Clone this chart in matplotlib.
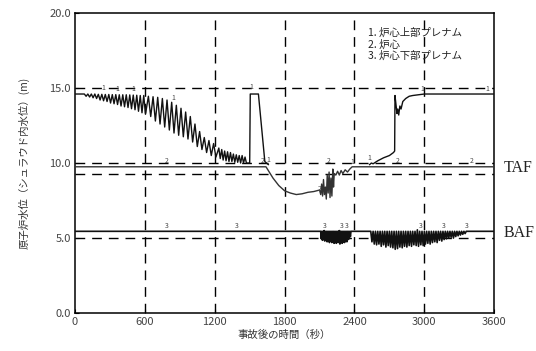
import matplotlib
matplotlib.use("Agg")
import matplotlib.pyplot as plt
import numpy as np

plt.rcParams['font.family'] = ['Noto Sans CJK JP', 'DejaVu Sans']

# 1. upper plenum level (m) vs time (s)
up_t = [0, 60, 80, 95, 110, 125, 140, 155, 170, 185, 200, 215, 230, 245, 260, 275,
        290, 305, 320, 335, 350, 365, 380, 395, 410, 425, 440, 455, 470, 485, 500, 515,
        530, 545, 560, 575, 590, 605, 630, 650, 670, 690, 710, 730, 750, 770, 790, 810,
        830, 850, 870, 890, 910, 930, 950, 970, 990, 1010, 1030, 1050, 1070, 1090, 1110, 1130,
        1150, 1170, 1190, 1210, 1235, 1247, 1260, 1272, 1285, 1297, 1310, 1322, 1335, 1347, 1360, 1372,
        1385, 1397, 1410, 1422, 1435, 1447, 1460, 1472, 1500, 1505, 1575, 1630, 1660,
        1661,
        2530, 2545, 2560, 2600, 2650, 2700, 2735, 2745, 2748, 2755, 2765, 2772, 2780, 2790, 2800, 2815,
        2840, 2870, 2900, 2950, 3000, 3600]
up_y = [14.6, 14.6, 14.6, 14.45, 14.6, 14.4, 14.6, 14.35, 14.6, 14.3, 14.58, 14.2, 14.58, 14.15, 14.57, 14.1,
        14.57, 14.0, 14.56, 13.95, 14.56, 13.9, 14.55, 13.8, 14.55, 13.75, 14.55, 13.7, 14.54, 13.62, 14.53, 13.55,
        14.52, 13.45, 14.5, 13.35, 14.5, 13.25, 14.45, 13.1, 14.42, 12.8, 14.38, 12.6, 14.3, 12.4, 14.2, 12.2,
        14.05, 12.0, 13.85, 11.85, 13.65, 11.75, 13.4, 11.6, 13.1, 11.4, 12.6, 11.1, 12.1, 10.9, 11.7, 10.7,
        11.5, 10.5, 11.3, 10.4, 11.0, 10.3, 10.9, 10.2, 10.8, 10.15, 10.75, 10.1, 10.7, 10.1, 10.6, 10.05,
        10.55, 10.05, 10.5, 10.0, 10.5, 10.0, 10.4, 10.0, 10.0, 14.6, 14.6, 10.1, 9.9,
        np.nan,
        9.9, 10.0, 9.95, 10.15, 10.35, 10.5, 10.7, 10.8, 14.5, 14.0, 13.3, 13.6, 13.2, 13.8, 13.6, 14.1,
        14.3, 14.45, 14.5, 14.55, 14.6, 14.6]

# 2. core level
core_t = [0, 1640, 1660, 1700, 1750, 1800, 1850, 1900, 1950, 2000, 2050, 2100,
          2110, 2118, 2126, 2134, 2142, 2150, 2158, 2166, 2174, 2182, 2190, 2198, 2206, 2214,
          2220, 2226, 2240, 2255, 2270, 2285, 2300, 2320, 2340, 2360, 2380, 3600]
core_y = [9.75, 9.75, 9.5, 9.0, 8.5, 8.15, 8.0, 7.9, 7.95, 8.05, 8.1, 8.2,
          7.9, 8.6, 7.8, 8.9, 7.9, 8.4, 7.6, 9.2, 8.0, 9.4, 7.7, 9.0, 7.8, 9.6,
          8.4, 9.3, 9.2, 9.45, 9.2, 9.5, 9.3, 9.55, 9.4, 9.6, 9.75, 9.75]

# 3. lower plenum level
lp_t = [0, 2110, 2115, 2120, 2125, 2130, 2135, 2140, 2145, 2150, 2155, 2160, 2165, 2170, 2175,
        2180, 2185, 2190, 2195, 2200, 2205, 2210, 2215, 2220, 2225, 2230, 2235, 2240, 2245,
        2250, 2255, 2260, 2265, 2270, 2275, 2280, 2285, 2290, 2295, 2300, 2305, 2310, 2315,
        2320, 2325, 2330, 2335, 2340, 2345, 2350, 2355, 2360, 2365, 2370,
        2540, 2550, 2560, 2570, 2580, 2590, 2600, 2610, 2620, 2630, 2640, 2650, 2660, 2670,
        2680, 2690, 2700, 2710, 2720, 2730, 2740, 2750, 2760, 2770, 2780, 2790, 2800, 2810,
        2820, 2830, 2840, 2850, 2860, 2870, 2880, 2890, 2900, 2910, 2920, 2930, 2940, 2950,
        2960, 2970, 2980, 2990, 3000, 3010, 3020, 3030, 3040, 3050, 3060, 3070, 3080, 3090,
        3100, 3110, 3120, 3130, 3140, 3150, 3160, 3170, 3180, 3190, 3200, 3210, 3220, 3230,
        3240, 3250, 3260, 3270, 3280, 3290, 3300, 3310, 3320, 3330, 3340, 3350, 3360, 3600]
lp_y = [5.45, 5.45, 4.95, 5.45, 4.85, 5.45, 4.9, 5.5, 4.8, 5.45, 4.85, 5.45, 4.75, 5.45, 4.8,
        5.45, 4.7, 5.45, 4.8, 5.45, 4.7, 5.45, 4.75, 5.45, 4.65, 5.45, 4.7, 5.45, 4.65,
        5.45, 4.75, 5.45, 4.7, 5.5, 4.6, 5.45, 4.7, 5.45, 4.65, 5.45, 4.75, 5.45, 4.7,
        5.45, 4.8, 5.45, 4.75, 5.45, 4.9, 5.45, 4.95, 5.45, 5.1, 5.45,
        5.45, 4.75, 5.45, 4.6, 5.45, 4.55, 5.45, 4.6, 5.45, 4.45, 5.45, 4.55, 5.45, 4.4,
        5.45, 4.5, 5.45, 4.4, 5.45, 4.35, 5.45, 4.25, 5.45, 4.3, 5.45, 4.4, 5.45, 4.35,
        5.45, 4.45, 5.45, 4.4, 5.45, 4.5, 5.45, 4.45, 5.45, 4.55, 5.45, 4.5, 5.55, 4.45,
        5.45, 4.55, 5.45, 4.5, 5.45, 4.6, 5.45, 4.65, 5.45, 4.6, 5.45, 4.7, 5.45, 4.75,
        5.45, 4.7, 5.45, 4.85, 5.45, 4.8, 5.45, 4.9, 5.45, 4.95, 5.45, 5.0, 5.45, 5.05,
        5.45, 5.0, 5.45, 5.1, 5.45, 5.15, 5.45, 5.2, 5.45, 5.25, 5.45, 5.3, 5.45, 5.45]

# curve number tags (time, level)
tag1 = [(240, 14.75), (360, 14.7), (500, 14.7), (840, 14.1), (1510, 14.8), (1660, 9.95),
        (2380, 9.8), (2530, 10.05), (2985, 14.7), (3540, 14.7)]
tag2 = [(790, 9.85), (1610, 9.85), (2100, 8.0), (2175, 9.85), (2770, 9.85), (3410, 9.85)]
tag3 = [(790, 5.55), (1390, 5.55), (2140, 5.55), (2290, 5.55), (2335, 5.55),
        (2970, 5.55), (3170, 5.55), (3360, 5.55)]

legend_lines = ["1. 炉心上部プレナム", "2. 炉心", "3. 炉心下部プレナム"]
x_ticks = [0, 600, 1200, 1800, 2400, 3000, 3600]
y_ticks = [0.0, 5.0, 10.0, 15.0, 20.0]
taf_level = 9.25
baf_level = 5.45

fig = plt.figure(figsize=(5.36, 3.51), dpi=100)
ax = fig.add_axes([0.140, 0.108, 0.782, 0.855])
ax.set_xlim(0, 3600)
ax.set_ylim(0, 20)

dash = dict(color="black", lw=1.0, dashes=(7, 5), zorder=1)
for x in x_ticks[1:-1]:
    ax.axvline(x, **dash)
for y in [5.0, 10.0, 15.0]:
    ax.axhline(y, **dash)
ax.axhline(taf_level, **dash)

ax.plot(lp_t, lp_y, color="#111111", lw=1.2, zorder=3)
ax.plot(core_t, core_y, color="#333333", lw=1.0, zorder=3)
ax.plot(up_t, up_y, color="#111111", lw=1.0, zorder=4)

for tags, s in [(tag1, "1"), (tag2, "2"), (tag3, "3")]:
    for t, v in tags:
        ax.text(t, v, s, fontsize=5, color="#444444", ha="center", va="bottom", zorder=5)

for i, line in enumerate(legend_lines):
    ax.text(0.70, 0.95 - i * 0.037, line, transform=ax.transAxes, fontsize=7.5,
            color="#222222", va="top", ha="left")

ax.text(1.022, taf_level + 0.4, "TAF", transform=ax.get_yaxis_transform(),
        fontsize=11.5, family="Liberation Serif", va="center", ha="left", color="#222222")
ax.text(1.022, baf_level - 0.1, "BAF", transform=ax.get_yaxis_transform(),
        fontsize=11.5, family="Liberation Serif", va="center", ha="left", color="#222222")

ax.set_xticks(x_ticks)
ax.set_yticks(y_ticks)
ax.set_yticklabels([f"{v:.1f}" for v in y_ticks])
ax.tick_params(direction="in", length=3, labelsize=8, labelcolor="#444444", pad=3)
for sp in ax.spines.values():
    sp.set_linewidth(1.1)

ax.set_xlabel("事故後の時間（秒）", fontsize=7.5, color="#333333", labelpad=2)
ax.set_ylabel("原子炉水位（シュラウド内水位）(m)", fontsize=7.5, color="#333333", labelpad=14)

fig.savefig("out.png", dpi=100)
